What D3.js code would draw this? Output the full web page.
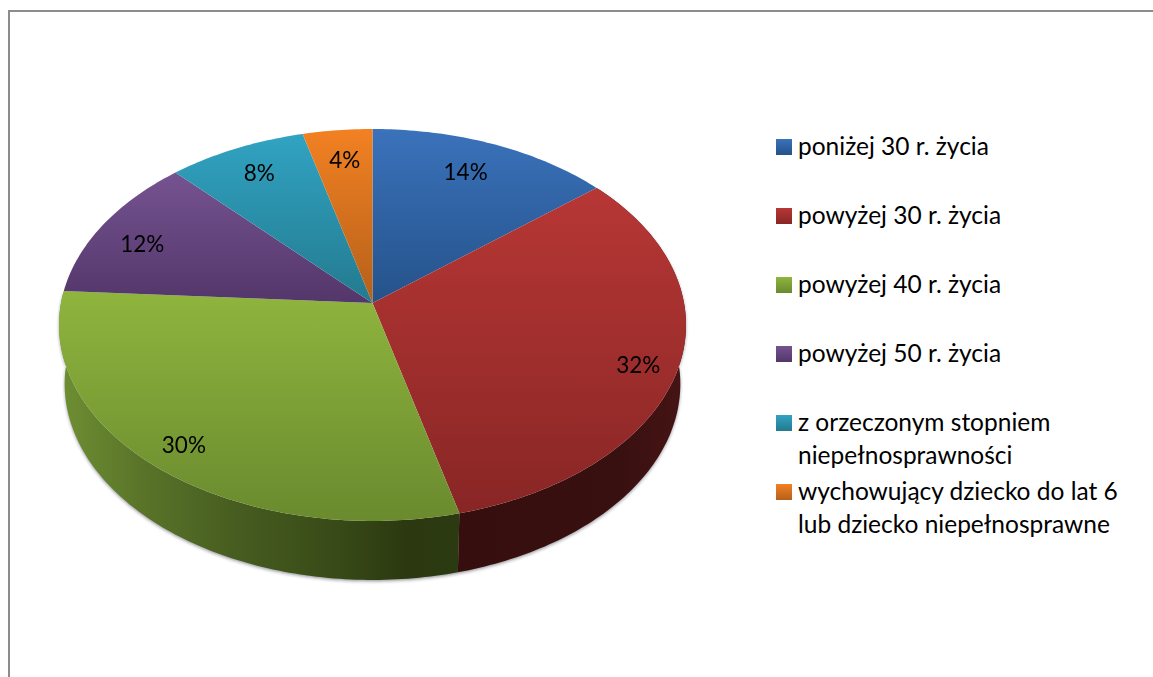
<!DOCTYPE html>
<html lang="pl">
<head>
<meta charset="utf-8">
<title>Wykres</title>
<script src="https://cdnjs.cloudflare.com/ajax/libs/d3/7.8.5/d3.min.js"></script>
<style>
  body { margin: 0; background: #fff; }
  svg { display: block; }
  text { font-family: Lato, Carlito, sans-serif; fill: #000; }
</style>
</head>
<body>
<div id="chart"></div>
<script>
var categories = ["poniżej 30 r. życia", "powyżej 30 r. życia", "powyżej 40 r. życia",
                  "powyżej 50 r. życia", "z orzeczonym stopniem niepełnosprawności",
                  "wychowujący dziecko do lat 6 lub dziecko niepełnosprawne"];
var values = [14, 32, 30, 12, 8, 4];
var legendLines = [["poniżej 30 r. życia"], ["powyżej 30 r. życia"], ["powyżej 40 r. życia"],
                   ["powyżej 50 r. życia"], ["z orzeczonym stopniem", "niepełnosprawności"],
                   ["wychowujący dziecko do lat 6", "lub dziecko niepełnosprawne"]];
var topLight = ["#3a72bb", "#b73735", "#8fb53e", "#755390", "#31a3c2", "#f28122"];
var topDark = ["#25528a", "#882625", "#6a8a2e", "#53366a", "#237a8f", "#b5601a"];

// layout
var width = 1153, height = 677;
var cx = 372.5, cy = 303, rx = 311.5, ry = 193.5, persp = 0.1122, depth = 59, lowScale = 0.982;
var labelNudge = [[-5, -1.5], [22, 13], [-18, 14], [-13, 4.5], [-2, -4], [1, -2]];

var svg = d3.select("#chart").append("svg").attr("width", width).attr("height", height);
var defs = svg.append("defs");

svg.append("path")
   .attr("d", "M9," + height + "V11H" + width)
   .attr("fill", "none").attr("stroke", "#8c8c8c").attr("stroke-width", 2);

// tilted disc: angle and radius fraction to screen position
function project(a, r) {
    var u = r * Math.sin(a), v = -r * Math.cos(a), w = 1 - persp * v;
    return [cx + rx * u / w, cy + ry * v / w];
}
function arcPoints(d) {
    var n = Math.max(2, Math.ceil((d.endAngle - d.startAngle) * 60));
    return d3.range(n + 1).map(function(i) {
        return project(d.startAngle + (d.endAngle - d.startAngle) * i / n, 1);
    });
}
var line = d3.line();
var arcs = d3.pie().sort(null)(values);

function topPath(d) {
    return line([[cx, cy]].concat(arcPoints(d))) + "Z";
}
// bottom rim is a bit narrower than the top one
function wallPath(d) {
    var pts = arcPoints(d);
    var low = pts.map(function(p) {
        return [cx + (p[0] - cx) * lowScale, p[1] + depth];
    }).reverse();
    return line(pts.concat(low)) + "Z";
}

arcs.forEach(function(d, i) {
    ["top", "swatch"].forEach(function(name) {
        var g = defs.append("linearGradient").attr("id", name + i)
                    .attr("x1", 0).attr("y1", 0).attr("x2", 0).attr("y2", 1);
        g.append("stop").attr("offset", 0).attr("stop-color", topLight[i]);
        g.append("stop").attr("offset", 1).attr("stop-color", topDark[i]);
    });
});

// the wall shading runs left to right
var wallGreen = defs.append("linearGradient").attr("id", "wallGreen")
    .attr("gradientUnits", "userSpaceOnUse").attr("x1", 59).attr("x2", 458).attr("y1", 0).attr("y2", 0);
[[0, "#6f8f33"], [0.2, "#5a7529"], [0.45, "#465c20"], [0.7, "#384a17"], [0.88, "#2b3810"], [1, "#2c3a11"]]
    .forEach(function(s) { wallGreen.append("stop").attr("offset", s[0]).attr("stop-color", s[1]); });
var wallRed = defs.append("linearGradient").attr("id", "wallRed")
    .attr("gradientUnits", "userSpaceOnUse").attr("x1", 458).attr("x2", 686).attr("y1", 0).attr("y2", 0);
[[0, "#360e0e"], [0.7, "#381010"], [1, "#471414"]]
    .forEach(function(s) { wallRed.append("stop").attr("offset", s[0]).attr("stop-color", s[1]); });

var blur = defs.append("filter").attr("id", "shadow")
    .attr("x", "-10%").attr("y", "-10%").attr("width", "120%").attr("height", "120%");
blur.append("feGaussianBlur").attr("stdDeviation", 1.6);

var frontArcs = arcs.filter(function(d) { return d.index === 1 || d.index === 2; });

svg.append("g").attr("filter", "url(#shadow)").attr("transform", "translate(0,1.5)")
   .selectAll("path").data(frontArcs).join("path")
   .attr("d", wallPath).attr("fill", "#223").attr("opacity", 0.45);

svg.append("g").selectAll("path").data(frontArcs).join("path")
   .attr("d", wallPath)
   .attr("fill", function(d) { return d.index === 1 ? "url(#wallRed)" : "url(#wallGreen)"; });

svg.append("g").selectAll("path").data(arcs).join("path")
   .attr("d", topPath)
   .attr("fill", function(d, i) { return "url(#top" + i + ")"; });

svg.append("g").selectAll("text").data(arcs).join("text")
   .attr("x", function(d, i) { return project((d.startAngle + d.endAngle) / 2, 0.8)[0] + labelNudge[i][0]; })
   .attr("y", function(d, i) { return project((d.startAngle + d.endAngle) / 2, 0.8)[1] + labelNudge[i][1]; })
   .attr("dy", ".35em")
   .attr("text-anchor", "middle")
   .attr("font-size", 22.5)
   .text(function(d) { return d.value + "%"; });

// legend
var legendY = d3.scalePoint().domain(d3.range(categories.length)).range([139, 484]);
var legend = svg.append("g").selectAll("g").data(categories).join("g")
    .attr("transform", function(d, i) { return "translate(776," + legendY(i) + ")"; });
legend.append("rect").attr("width", 16).attr("height", 16)
      .attr("fill", function(d, i) { return "url(#swatch" + i + ")"; });
legend.each(function(d, i) {
    d3.select(this).selectAll("text").data(legendLines[i]).join("text")
      .attr("x", 22)
      .attr("y", function(t, j) { return 16 + j * 32.5; })
      .attr("font-size", 24.5)
      .text(function(t) { return t; });
});
</script>
</body>
</html>
